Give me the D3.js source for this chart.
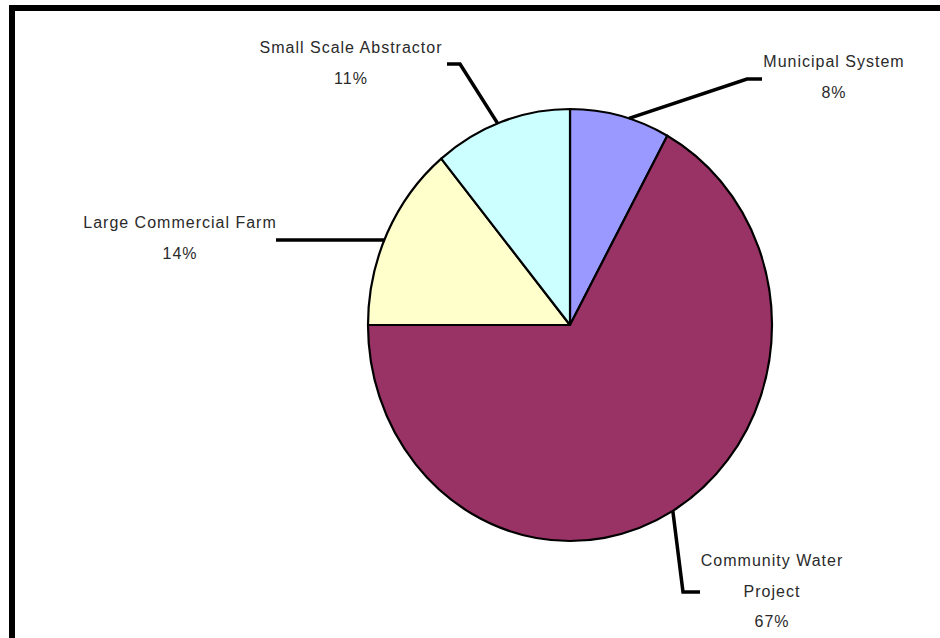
<!DOCTYPE html>
<html>
<head>
<meta charset="utf-8">
<script src="https://cdn.jsdelivr.net/npm/d3@7"></script>
<style>
  html, body { margin: 0; padding: 0; background: #fff; }
  svg { display: block; }
</style>
</head>
<body>
<svg id="chart" width="940" height="638"></svg>
<script>
// Share of water use by user category (percent)
const categories = ["Municipal System", "Community Water Project", "Large Commercial Farm", "Small Scale Abstractor"];
const values = [8, 67, 14, 11];
const colors = ["#9999ff", "#993366", "#ffffcc", "#ccffff"];
// Label text lines (the percentage line is appended from the values)
const labelLines = [
  ["Municipal System"],
  ["Community Water", "Project"],
  ["Large Commercial Farm"],
  ["Small Scale Abstractor"]
];

// Layout: pie geometry and label placement
const W = 940, H = 638;
const cx = 570, cy = 325, rx = 202, ry = 216;
const lineGap = 30.5;
const labelLayout = [
  { x: 834, y: 67,  frac: 0.59, elbow: [747, 79],  end: [762, 79] },
  { x: 772, y: 566, frac: 0.50, elbow: [683, 592], end: [700, 592] },
  { x: 180, y: 228, frac: 0.46, elbow: [290, 240], end: [276, 240] },
  { x: 351, y: 53,  frac: 0.47, elbow: [460, 64],  end: [447, 64] }
];

const svg = d3.select("#chart");

// Frame
svg.append("rect")
  .attr("x", 12).attr("y", 8)
  .attr("width", W + 40).attr("height", H + 40)
  .attr("fill", "#fff")
  .attr("stroke", "#000")
  .attr("stroke-width", 6);

const data = categories.map((c, i) => ({ name: c, value: values[i], color: colors[i], lines: labelLines[i], layout: labelLayout[i] }));

const pie = d3.pie().value(d => d.value).sort(null).startAngle(0).endAngle(2 * Math.PI);
const arcs = pie(data);
const arc = d3.arc().innerRadius(0).outerRadius(rx);

// Pie, drawn as a circle and stretched vertically into the ellipse
const g = svg.append("g")
  .attr("transform", `translate(${cx},${cy}) scale(1,${ry / rx})`);

g.selectAll("path.slice")
  .data(arcs)
  .join("path")
  .attr("class", "slice")
  .attr("d", arc)
  .attr("fill", d => d.data.color)
  .attr("stroke", "#000")
  .attr("stroke-width", 2.2)
  .attr("stroke-linejoin", "round")
  .attr("vector-effect", "non-scaling-stroke");

// Point on the pie rim at a given angle (radians, clockwise from 12 o'clock)
function rimPoint(a) {
  return [cx + rx * Math.sin(a), cy - ry * Math.cos(a)];
}

// Leader lines
const lineGen = d3.line();
svg.selectAll("path.leader")
  .data(arcs)
  .join("path")
  .attr("class", "leader")
  .attr("d", d => {
    const L = d.data.layout;
    const a = d.startAngle + (d.endAngle - d.startAngle) * L.frac;
    return lineGen([rimPoint(a), L.elbow, L.end]);
  })
  .attr("fill", "none")
  .attr("stroke", "#000")
  .attr("stroke-width", 3.5)
  .attr("stroke-linejoin", "miter");

// Labels
const labels = svg.selectAll("text.label")
  .data(arcs)
  .join("text")
  .attr("class", "label")
  .attr("text-anchor", "middle")
  .attr("font-family", "'Liberation Sans', Arial, sans-serif")
  .attr("font-size", 16)
  .attr("letter-spacing", "1px")
  .attr("fill", "#2a2a2a");

labels.each(function (d) {
  const L = d.data.layout;
  const lines = d.data.lines.concat([`${d.data.value}%`]);
  d3.select(this).selectAll("tspan")
    .data(lines)
    .join("tspan")
    .attr("x", L.x)
    .attr("y", (t, i) => L.y + i * lineGap)
    .text(t => t);
});
</script>
</body>
</html>
